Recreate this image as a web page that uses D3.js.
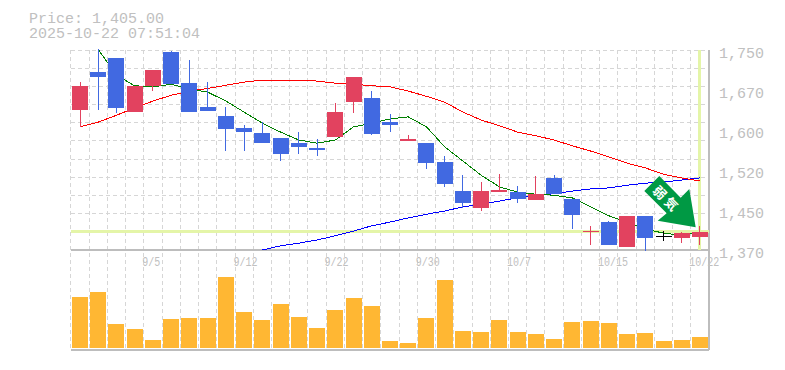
<!DOCTYPE html>
<html>
<head>
<meta charset="utf-8">
<script src="https://cdn.jsdelivr.net/npm/d3@7"></script>
<style>
  html, body { margin: 0; padding: 0; background: #fff; overflow: hidden; }
  text { font-family: "Liberation Mono", monospace; fill: #c0c0c0; }
</style>
</head>
<body>
<div id="chart"></div>
<script>
// dates of each candle, only some of them get a label
var dates = ["9/1","9/2","9/3","9/4","9/5","9/8","9/9","9/10","9/11","9/12","9/16","9/17","9/18","9/19","9/22","9/24","9/25","9/26","9/29","9/30","10/1","10/2","10/3","10/6","10/7","10/8","10/9","10/10","10/14","10/15","10/16","10/17","10/20","10/21","10/22"];
var labelledDates = ["9/5","9/12","9/22","9/30","10/7","10/15","10/22"];

var opens  = [1636,1708,1735,1632,1682,1746,1687,1642,1625,1602,1592,1583,1573,1564,1585,1651,1659,1613,1577,1573,1537,1482,1450,1480,1480,1465,1507,1467,1404,1423,1376,1435,1396,1393,1395];
var closes = [1682,1699,1640,1682,1712,1685,1632,1634,1600,1595,1573,1552,1566,1560,1632,1699,1590,1607,1580,1535,1495,1459,1482,1484,1467,1476,1476,1437,1406,1380,1435,1393,1396,1402,1405];
var highs  = [1690,1751,1735,1682,1712,1749,1731,1689,1642,1607,1613,1583,1594,1581,1649,1699,1672,1628,1588,1573,1549,1512,1499,1514,1492,1511,1513,1467,1416,1425,1435,1435,1406,1404,1416];
var lows   = [1604,1636,1630,1632,1673,1685,1632,1634,1559,1559,1573,1540,1552,1549,1585,1630,1588,1594,1577,1524,1490,1450,1444,1480,1459,1465,1476,1410,1380,1380,1376,1368,1387,1383,1380];
var volumes = [51,56,24,19,8,29,30,30,71,36,28,44,31,20,38,50,42,7,5,30,68,17,16,28,16,14,9,26,27,25,14,15,7,8,11];

// moving averages, null where the line has not started yet
var maShort = [null,1751,1702,1682,1680,1685,1676,1670,1653,1632,1611,1594,1579,1573,1579,1604,1611,1619,1623,1604,1566,1539,1512,1490,1480,1476,1474,1469,1452,1435,1423,1410,1402,1398,1404];
var maMid = [1604,1613,1626,1640,1653,1664,1672,1677,1683,1689,1693,1693,1693,1691,1687,1685,1682,1680,1672,1662,1651,1632,1617,1606,1594,1587,1579,1568,1558,1547,1535,1526,1514,1507,1501];
var maLong = [null,null,null,null,null,null,null,null,null,null,1370,1378,1383,1389,1397,1406,1416,1423,1431,1438,1444,1452,1457,1463,1469,1473,1477,1482,1486,1488,1493,1497,1499,1503,1507];

var priceTicks = [1750,1674,1598,1522,1446,1370];
var priceLabels = ["1,750","1,670","1,600","1,520","1,450","1,370"];
var lastPrice = 1405;
var titleLines = ["Price: 1,405.00", "2025-10-22 07:51:04"];

var width = 785, height = 370;
var left = 70.9, right = 709.1, priceTop = 50, priceBottom = 250, volTop = 277, volBottom = 348, panelBottom = 350;

var svg = d3.select("#chart")
    .append("svg")
    .attr("width", width)
    .attr("height", height)
    .style("display", "block");

var x = d3.scaleBand()
    .domain(dates)
    .range([left, right]);
var y = d3.scaleLinear()
    .domain([1370, 1750])
    .range([priceBottom, priceTop]);
var yVol = d3.scaleLinear()
    .domain([0, d3.max(volumes)])
    .range([volBottom, volTop]);

var bodyWidth = 16;
function center(i) { return x(dates[i]) + x.bandwidth() / 2; }

// grid
var grid = svg.append("g")
    .attr("stroke", "#d6d6d6")
    .attr("stroke-dasharray", "4,3")
    .attr("shape-rendering", "crispEdges");
var gridRows = d3.range(12).map(function (i) { return priceTop + i * (priceBottom - priceTop) / 11; });
grid.selectAll(".row")
    .data(gridRows)
    .enter()
    .append("line")
    .attr("x1", left)
    .attr("x2", right)
    .attr("y1", function (d) { return d; })
    .attr("y2", function (d) { return d; });
grid.selectAll(".col")
    .data(dates)
    .enter()
    .append("line")
    .attr("x1", function (d) { return x(d); })
    .attr("x2", function (d) { return x(d); })
    .attr("y1", priceTop)
    .attr("y2", panelBottom);

// frame
var frame = d3.path();
frame.moveTo(left, priceBottom); frame.lineTo(right, priceBottom);
frame.moveTo(left, panelBottom); frame.lineTo(right, panelBottom);
frame.moveTo(right, priceTop); frame.lineTo(right, panelBottom);
svg.append("path")
    .attr("d", frame.toString())
    .attr("fill", "none")
    .attr("stroke", "#bdbdbd")
    .attr("stroke-width", 1.5)
    .attr("shape-rendering", "crispEdges");

// current price cross hair
svg.append("line")
    .attr("x1", left).attr("x2", right)
    .attr("y1", y(lastPrice)).attr("y2", y(lastPrice))
    .attr("stroke", "#e4f5a8")
    .attr("stroke-width", 3)
    .attr("shape-rendering", "crispEdges");
svg.append("line")
    .attr("x1", center(34)).attr("x2", center(34))
    .attr("y1", priceTop).attr("y2", priceBottom)
    .attr("stroke", "#e4f5a8")
    .attr("stroke-width", 3)
    .attr("shape-rendering", "crispEdges");

// moving average lines
var maLine = d3.line()
    .defined(function (d) { return d !== null; })
    .x(function (d, i) { return center(i); })
    .y(function (d) { return y(d); });
[[maLong, "#0000ff"], [maMid, "#ff0000"], [maShort, "#008000"]].forEach(function (s) {
    svg.append("path")
        .datum(s[0])
        .attr("fill", "none")
        .attr("stroke", s[1])
        .attr("stroke-width", 1)
        .attr("shape-rendering", "crispEdges")
        .attr("d", maLine);
});

// candles
function candleColor(i) {
    if (closes[i] > opens[i]) return "#e2425f";
    if (closes[i] < opens[i]) return "#4169e1";
    return "#000";
}
var candles = svg.append("g")
    .attr("shape-rendering", "crispEdges")
    .selectAll("g")
    .data(dates)
    .enter()
    .append("g")
    .attr("fill", function (d, i) { return candleColor(i); })
    .attr("stroke", function (d, i) { return candleColor(i); });
candles.append("line")
    .attr("x1", function (d, i) { return center(i); })
    .attr("x2", function (d, i) { return center(i); })
    .attr("y1", function (d, i) { return y(highs[i]); })
    .attr("y2", function (d, i) { return y(lows[i]); });
candles.append("rect")
    .attr("stroke", "none")
    .attr("x", function (d, i) { return center(i) - bodyWidth / 2; })
    .attr("width", bodyWidth)
    .attr("y", function (d, i) { return y(Math.max(opens[i], closes[i])); })
    .attr("height", function (d, i) { return Math.max(1, Math.abs(y(opens[i]) - y(closes[i]))); });

// volume
svg.append("g")
    .attr("shape-rendering", "crispEdges")
    .selectAll("rect")
    .data(volumes)
    .enter()
    .append("rect")
    .attr("x", function (d, i) { return center(i) - bodyWidth / 2; })
    .attr("width", bodyWidth)
    .attr("y", function (d) { return yVol(d); })
    .attr("height", function (d) { return volBottom - yVol(d); })
    .attr("fill", "#ffb733");

// axes
var yAxis = svg.append("g")
    .attr("transform", "translate(719,0)")
    .call(d3.axisRight(y)
        .tickValues(priceTicks)
        .tickSize(0)
        .tickPadding(0)
        .tickFormat(function (d, i) { return priceLabels[i]; }));
yAxis.select(".domain").remove();
yAxis.selectAll("text")
    .attr("dy", "0.72em")
    .attr("y", -3)
    .style("font-size", "15px")
    .attr("font-family", null);

var xAxis = svg.append("g")
    .attr("transform", "translate(0," + priceBottom + ")")
    .call(d3.axisBottom(x)
        .tickValues(labelledDates)
        .tickSize(0)
        .tickPadding(0));
xAxis.select(".domain").remove();
// tick labels are taller than they are wide in the original, so squeeze them
xAxis.selectAll("text")
    .attr("y", 7)
    .attr("dx", -10.7)
    .attr("text-anchor", "start")
    .attr("textLength", function (d) { return d.length * 6; })
    .attr("lengthAdjust", "spacingAndGlyphs")
    .style("font-size", "12px")
    .attr("font-family", null);

// title, two lines in one text element
svg.append("text")
    .style("font-size", "15px")
    .selectAll("tspan")
    .data(titleLines)
    .enter()
    .append("tspan")
    .attr("x", 29)
    .attr("y", function (d, i) { return 23 + i * 15; })
    .text(function (d) { return d; });

// sell signal arrow
svg.append("path")
    .attr("d", "M659.3,176L644.3,191L666.7,213.3L657.7,220.7L695.7,227.3L689.3,189L680.7,197.7Z")
    .attr("fill", "#009944");
svg.append("text")
    .attr("transform", "translate(666.5,199.5) rotate(45)")
    .attr("text-anchor", "middle")
    .attr("dy", "0.36em")
    .style("font-family", '"Noto Sans CJK JP"')
    .style("font-weight", "700")
    .style("font-size", "13px")
    .style("letter-spacing", "3px")
    .style("fill", "#fff")
    .text("弱気");
</script>
</body>
</html>
